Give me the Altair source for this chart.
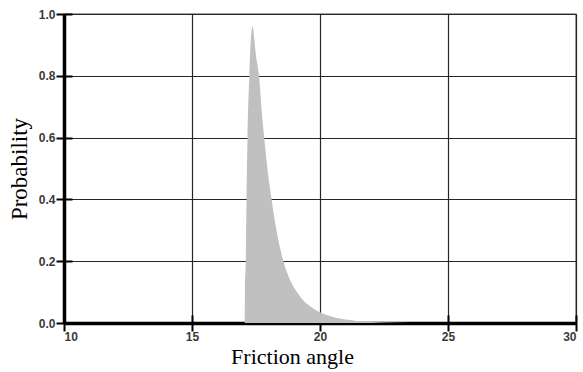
import altair as alt
import pandas as pd

# Probability density of the friction angle
angle = [17.06, 17.07, 17.10, 17.13, 17.17, 17.24, 17.29, 17.37, 17.43, 17.50,
         17.62, 17.72, 17.82, 17.96, 18.11, 18.30, 18.57, 18.75, 18.95, 19.15,
         19.34, 19.55, 19.80, 20.00, 20.30, 20.65, 21.00, 21.50, 22.00, 23.00,
         24.00, 25.00]
probability = [0.000, 0.100, 0.200, 0.400, 0.600, 0.800, 0.905, 0.960, 0.920, 0.865,
               0.800, 0.690, 0.600, 0.490, 0.400, 0.300, 0.200, 0.155, 0.120, 0.095,
               0.074, 0.058, 0.044, 0.035, 0.025, 0.016, 0.011, 0.006, 0.0035, 0.0012,
               0.0004, 0.000]

x_ticks = [10, 15, 20, 25, 30]
y_ticks = [0.0, 0.2, 0.4, 0.6, 0.8, 1.0]

df = pd.DataFrame({"angle": angle, "probability": probability})

label_font = "Liberation Sans"
title_font = "Liberation Serif"

x_scale = alt.Scale(domain=[10, 30], nice=False, zero=False)
y_scale = alt.Scale(domain=[0, 1], nice=False)

main_x_axis = alt.Axis(
    values=x_ticks, format="d", title="Friction angle",
    domain=True, domainColor="black", domainWidth=3.5,
    ticks=True, tickSize=8, tickWidth=2, tickColor="black",
    grid=True, gridColor="#262626", gridWidth=1.2,
    labelFont=label_font, labelFontSize=12, labelFontWeight="bold",
    labelColor="#3a3a3a", labelPadding=0,
    titleFont=title_font, titleFontSize=22, titleFontWeight="normal",
    titleColor="black", titlePadding=4, titleX=228, titleAlign="center",
)
main_y_axis = alt.Axis(
    values=y_ticks, format=".1f", title="Probability",
    domain=True, domainColor="black", domainWidth=3.5,
    ticks=True, tickSize=8, tickWidth=2, tickColor="black",
    grid=True, gridColor="#262626", gridWidth=1.2,
    labelFont=label_font, labelFontSize=12, labelFontWeight="bold",
    labelColor="#3a3a3a", labelPadding=1,
    titleFont=title_font, titleFontSize=23, titleFontWeight="normal",
    titleColor="black", titlePadding=7,
)

area = alt.Chart(df).mark_area(color="#c0c0c0", interpolate="monotone").encode(
    x=alt.X("angle:Q", scale=x_scale, axis=main_x_axis),
    y=alt.Y("probability:Q", scale=y_scale, axis=main_y_axis),
)

# Inner halves of the tick marks, so that each tick crosses the axis line
inner_x_axis = alt.Axis(
    values=x_ticks, orient="bottom", offset=-8, title=None, labels=False,
    domain=False, grid=False, ticks=True, tickSize=8, tickWidth=2, tickColor="black",
)
inner_y_axis = alt.Axis(
    values=y_ticks, orient="left", offset=-8, title=None, labels=False,
    domain=False, grid=False, ticks=True, tickSize=8, tickWidth=2, tickColor="black",
)
inner_ticks = alt.Chart(df).mark_point(opacity=0).encode(
    x=alt.X("angle:Q", scale=x_scale, axis=inner_x_axis),
    y=alt.Y("probability:Q", scale=y_scale, axis=inner_y_axis),
)

chart = (
    alt.layer(area, inner_ticks)
    .resolve_axis(x="independent", y="independent")
    .properties(
        width=512,
        height=309,
        autosize=alt.AutoSizeParams(type="none"),
        padding={"left": 64, "top": 14, "right": 7, "bottom": 49},
        background="white",
    )
    .configure_view(stroke="#888888", strokeWidth=1.5)
)

chart.save("out.html", embed_options={"renderer": "svg", "actions": False})
